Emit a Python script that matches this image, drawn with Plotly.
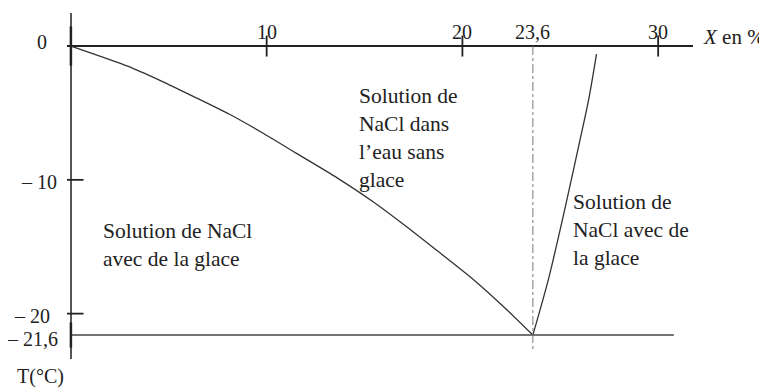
import plotly.graph_objects as go

# liquidus curves of the NaCl / water diagram (X en %, T en °C)
ice_x = [0, 2.9, 4.6, 6.3, 8.1, 9.8, 11.5, 13.6, 15.4, 17.1, 18.8, 20.6, 22.3, 23.6]
ice_t = [0, -1.5, -2.6, -3.8, -5.1, -6.5, -8.0, -9.85, -11.6, -13.45, -15.4, -17.5, -19.75, -21.6]

salt_x = [23.6, 24.4, 25.2, 25.95, 26.45, 26.85]
salt_t = [-21.6, -17.4, -12.4, -7.4, -4.0, -0.6]

eutectic_x = [0, 30.8]
eutectic_t = [-21.6, -21.6]

eut_comp_x = [23.6, 23.6]
eut_comp_t = [0, -22.8]

x_ticks = [10, 20, 30]
x_tick_labels = ["10", "20", "30"]
y_ticks = [-10, -20]
y_tick_labels = ["– 10", "– 20"]

ink = "#222222"
font = "Liberation Serif"

fig = go.Figure()

fig.add_trace(go.Scatter(x=ice_x, y=ice_t, mode="lines",
                         line=dict(color="#333", width=1.3, shape="spline", smoothing=0.6)))
fig.add_trace(go.Scatter(x=salt_x, y=salt_t, mode="lines",
                         line=dict(color="#333", width=1.3, shape="spline", smoothing=0.8)))
fig.add_trace(go.Scatter(x=eutectic_x, y=eutectic_t, mode="lines", line=dict(color="#444", width=1.5)))
fig.add_trace(go.Scatter(x=eut_comp_x, y=eut_comp_t, mode="lines",
                         line=dict(color="#777", width=1, dash="dashdot")))

# tick marks drawn on the axes themselves
fig.add_trace(go.Scatter(x=x_ticks, y=[0] * len(x_ticks), mode="markers",
                         marker=dict(symbol="line-ns", size=15, line=dict(width=1.8, color=ink))))
fig.add_trace(go.Scatter(x=[0] * len(y_ticks), y=y_ticks, mode="markers",
                         marker=dict(symbol="line-ew", size=18, line=dict(width=1.8, color=ink))))
fig.add_trace(go.Scatter(x=[0], y=[0], mode="markers",
                         marker=dict(symbol="line-ns", size=28, line=dict(width=2.5, color=ink))))
fig.add_trace(go.Scatter(x=[0], y=[-21.6], mode="markers",
                         marker=dict(symbol="line-ns", size=18, line=dict(width=2.5, color=ink))))

for v, lab in zip(x_ticks, x_tick_labels):
    fig.add_annotation(x=v, y=0, text=lab, showarrow=False, yshift=14, font=dict(size=20))
fig.add_annotation(x=23.6, y=0, text="23,6", showarrow=False, yshift=14, font=dict(size=20))
fig.add_annotation(x=31.78, y=0, text="<i>X</i> en %", showarrow=False, xanchor="left",
                   xshift=8, yshift=9, font=dict(size=21))

fig.add_annotation(x=0, y=0, text="0", showarrow=False, xanchor="right", xshift=-22, yshift=4,
                   font=dict(size=20))
for v, lab, dx in zip(y_ticks, y_tick_labels, [-12, -19]):
    fig.add_annotation(x=0, y=v, text=lab, showarrow=False, xanchor="right", xshift=dx,
                       yshift=-2, font=dict(size=20))
fig.add_annotation(x=0, y=-21.6, text="– 21,6", showarrow=False, xanchor="right", xshift=-11,
                   yshift=-4, font=dict(size=20))
fig.add_annotation(x=0, xref="x", y=0, yref="paper", text="T(°C)", showarrow=False,
                   xanchor="right", yanchor="top", xshift=-5, yshift=-4, font=dict(size=20))

# region labels
fig.add_annotation(x=1.53, y=-14.9, text="Solution de NaCl<br>avec de la glace", showarrow=False,
                   xanchor="left", align="left", font=dict(size=21.5))
fig.add_annotation(x=14.6, y=-6.9, text="Solution de<br>NaCl dans<br>l’eau sans<br>glace",
                   showarrow=False, xanchor="left", align="left", font=dict(size=21.5))
fig.add_annotation(x=25.55, y=-13.75, text="Solution de<br>NaCl avec de<br>la glace", showarrow=False,
                   xanchor="left", align="left", font=dict(size=21.5))

fig.update_xaxes(range=[-0.2, 31.78], showgrid=False, showticklabels=False, ticks="",
                 zeroline=True, zerolinecolor="#555", zerolinewidth=1.5)
fig.update_yaxes(range=[-23.39, 2.47], showgrid=False, showticklabels=False, ticks="",
                 zeroline=True, zerolinecolor="#222", zerolinewidth=1.5)

# page body has an 8px margin, so the figure is 8px smaller and shifted
fig.update_layout(width=759, height=380, showlegend=False, hovermode=False,
                  plot_bgcolor="white", paper_bgcolor="white",
                  margin=dict(l=59, r=74, t=5, b=29),
                  font=dict(family=font, color=ink))

fig.write_html("out.html")
